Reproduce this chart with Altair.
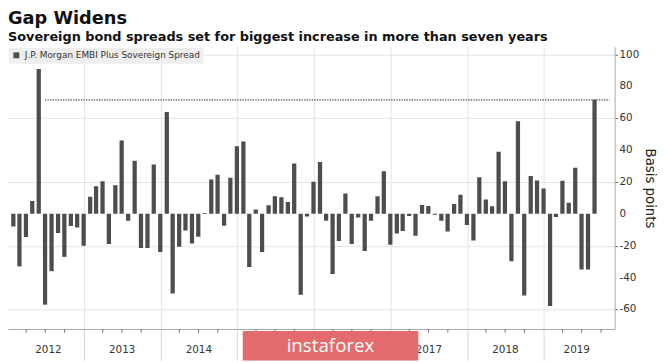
import altair as alt
import pandas as pd

# Monthly change in J.P. Morgan EMBI Plus sovereign spread (basis points), Jan 2012 - Aug 2019
spread = [
    -8, -33, -14.5, 8, 91, -57, -36, -12, -27, -7.6, -8.5, -20,            # 2012
    10.7, 17.3, 20.4, -19, 18, 46, -4.3, 33.4, -21.5, -21.5, 31, -24,     # 2013
    64, -50, -20.6, -10.5, -18.6, -14.4, 0.5, 21.5, 24.6, -7.4, 22.7, 42.5,  # 2014
    45.4, -33.4, 2.8, -24, 5.4, 11, 10.5, 7.4, 31.6, -50.8, -1.7, 20.2,   # 2015
    32.6, -4.3, -37.8, -17, 12.8, -19, -2.3, -23.3, -4.3, 11, 26.8, -19.4,  # 2016
    -12.4, -10.7, -1.4, -13.8, 5.6, 5, -0.6, -4.3, -11, 6.2, 12, -7,      # 2017
    -16.7, 23, 9, 4.7, 39, 20.4, -29.7, 58.2, -51.2, 23.7, 21, 15.9,      # 2018
    -57.8, -2, 20.8, 7, 29, -35, -35, 71.6,                               # 2019
]
series_name = "J.P. Morgan EMBI Plus Sovereign Spread"
year_labels = ["2012", "2013", "2014", "2015", "2016", "2017", "2018", "2019"]
y_major = [-60, -40, -20, 0, 20, 40, 60, 80, 100]
y_major_labels = ["-60", "-40", "-20", "0", "20", "40", "60", "80", "100"]
domain_start = "2012-01-29"
domain_end = "2019-11-11"
dotted_start = "2012-06-30"

dates = pd.date_range("2012-01-31", periods=len(spread), freq="ME").strftime("%Y-%m-%d")
bars_df = pd.DataFrame({"date": dates, "spread": spread, "series": series_name})

# year label positions: centre of the visible part of each year
ds, de = pd.Timestamp(domain_start), pd.Timestamp(domain_end)
label_dates = []
for y in year_labels:
    a = max(pd.Timestamp(f"{y}-01-01"), ds)
    b = min(pd.Timestamp(f"{int(y)+1}-01-01"), de)
    label_dates.append((a + (b - a) / 2).strftime("%Y-%m-%dT%H:%M:%S"))
labels_df = pd.DataFrame({"date": label_dates, "year": year_labels})
ylab_df = pd.DataFrame({"spread": y_major, "label": y_major_labels})

rule_df = pd.DataFrame({"date": [dotted_start], "date_end": [domain_end], "spread": [spread[-1]]})

def dt(ts):
    return alt.DateTime(year=ts.year, month=ts.month, date=ts.day, utc=True)

year_ticks = [dt(pd.Timestamp(f"{int(y)+1}-01-01")) for y in year_labels[:-1]]
quarter_dates = [d.strftime("%Y-%m-%d") for d in pd.date_range("2012-04-01", "2019-10-01", freq="QS") if d.month != 1]
quarter_df = pd.DataFrame({"date": quarter_dates})

W, H = 615, 286
x_scale = alt.Scale(type="utc", domain=[dt(ds), dt(de)])
y_scale = alt.Scale(domain=[-72.3, 104.8], nice=False, zero=False)

x_axis = alt.Axis(
    values=year_ticks, labels=False, title=None, grid=True,
    gridColor="#e4e4e4", tickSize=32, tickColor="#d4d4d4",
    domainColor="#aaaaaa",
)
y_axis = alt.Axis(
    orient="right", values=y_major, title="Basis points", labels=False,
    grid=True, gridColor="#e4e4e4",
    tickSize=3, tickColor="#666666", domainColor="#aaaaaa",
    titleFontSize=13.5, titleFontWeight="normal", titleColor="#222222", titlePadding=25,
)

bars = alt.Chart(bars_df).mark_bar(size=4.3, clip=True).encode(
    x=alt.X("date:T", scale=x_scale, axis=x_axis),
    y=alt.Y("spread:Q", scale=y_scale, axis=y_axis),
    color=alt.Color(
        "series:N", scale=alt.Scale(range=["#4d4d4d"]),
        legend=alt.Legend(
            orient="top-left", offset=1, title=None, padding=3,
            fillColor="#eeeeee", symbolType="square", symbolSize=36,
            labelFontSize=9, labelColor="#333333", symbolStrokeWidth=0,
            labelLimit=400,
        ),
    ),
)

y_labels = alt.Chart(ylab_df).mark_text(
    fontSize=10.5, color="#333333", align="left", baseline="middle"
).encode(y=alt.Y("spread:Q"), x=alt.value(W + 5), text="label:N")

q_ticks = alt.Chart(quarter_df).mark_rule(color="#777777", strokeWidth=1).encode(
    x=alt.X("date:T"), y=alt.value(H), y2=alt.value(H + 4)
)

dotted = alt.Chart(rule_df).mark_rule(color="#444444", strokeDash=[1.3, 1.3], strokeWidth=1.2).encode(
    x=alt.X("date:T"),
    x2="date_end:T",
    y=alt.Y("spread:Q"),
)

years = alt.Chart(labels_df).mark_text(fontSize=10.5, color="#333333", baseline="middle").encode(
    x=alt.X("date:T"),
    y=alt.value(H + 21),
    text="year:N",
)

wm_df = pd.DataFrame({"label": ["instaforex"]})
wm_box = alt.Chart(wm_df).mark_rect(color="#e36b6b", clip=False).encode(
    x=alt.value(238), x2=alt.value(416), y=alt.value(H + 2), y2=alt.value(H + 32)
)
wm_text = alt.Chart(wm_df).mark_text(
    color="white", fontSize=19, font="Liberation Sans Narrow, Open Sans", baseline="middle"
).encode(x=alt.value(327), y=alt.value(H + 17), text="label:N")

chart = alt.layer(bars, y_labels, q_ticks, dotted, years, wm_box, wm_text).properties(
    width=W, height=H,
    padding={"left": 0, "top": 0, "right": 0, "bottom": 0},
    title=alt.TitleParams(
        text="Gap Widens",
        subtitle="Sovereign bond spreads set for biggest increase in more than seven years",
        anchor="start", fontSize=18, subtitleFontSize=13,
        fontWeight="bold", subtitleFontWeight="bold",
        color="#111111", subtitleColor="#111111",
        offset=3, subtitlePadding=3,
    ),
).configure(font="DejaVu Sans").configure_view(strokeWidth=0)

chart.save("out.html", embed_options={"renderer": "svg", "actions": False})
